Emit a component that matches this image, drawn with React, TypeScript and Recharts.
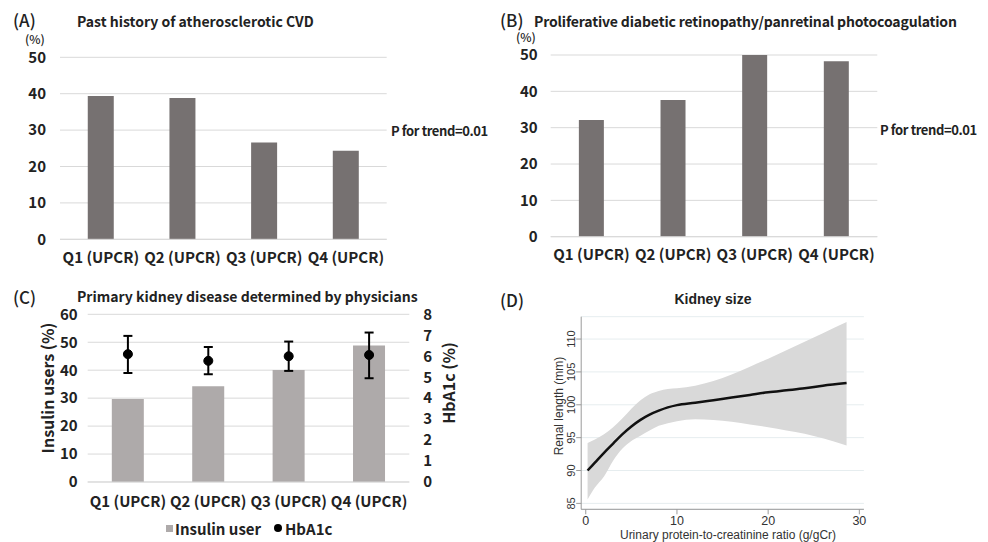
import React from "react";
import {
  BarChart,
  Bar,
  ComposedChart,
  Line,
  Area,
  ErrorBar,
  XAxis,
  YAxis,
  CartesianGrid,
} from "recharts";

// categories (UPCR quartiles)
const quartiles = ["Q1 (UPCR)", "Q2 (UPCR)", "Q3 (UPCR)", "Q4 (UPCR)"];

// (A) past history of atherosclerotic CVD, %
const cvdPct = [39.4, 38.8, 26.6, 24.3];
// (B) proliferative diabetic retinopathy / PRP, %
const pdrPct = [32.1, 37.6, 50.0, 48.3];
// (C) insulin users, % and HbA1c, %
const insulinPct = [29.7, 34.3, 40.1, 48.8];
const hba1c = [6.1, 5.78, 6.0, 6.06];
const hba1cErrLow = [0.9, 0.64, 0.7, 1.11];
const hba1cErrHigh = [0.87, 0.66, 0.7, 1.07];

// (D) kidney size vs UPCR
const upcr = [0.2, 1, 2, 3, 4, 5, 6, 7, 8, 9, 10, 12, 14, 16, 18, 20, 22, 24, 26, 28.6];
const renalFit = [90.0, 91.2, 92.7, 94.1, 95.5, 96.7, 97.7, 98.5, 99.1, 99.6, 99.95, 100.3, 100.7, 101.1, 101.5, 101.9, 102.2, 102.5, 102.9, 103.3];
const renalLower = [85.6, 87.4, 89.1, 91.5, 93.3, 94.5, 95.3, 96.1, 96.8, 97.2, 97.5, 97.8, 97.7, 97.4, 97.0, 96.6, 96.1, 95.6, 94.9, 93.8];
const renalUpper = [94.2, 94.7, 95.5, 96.6, 97.9, 99.4, 100.7, 101.6, 102.1, 102.4, 102.5, 102.9, 103.6, 104.6, 105.8, 107.0, 108.3, 109.6, 110.9, 112.6];

// tick labels
const pctTicks = [0, 10, 20, 30, 40, 50];
const insulinTicks = [0, 10, 20, 30, 40, 50, 60];
const hbTicks = [0, 1, 2, 3, 4, 5, 6, 7, 8];
const renalTicks = [85, 90, 95, 100, 105, 110];
const upcrTicks = [0, 10, 20, 30];

const JP = '"Noto Sans CJK JP", "Noto Sans", sans-serif';
const ARIAL = '"Liberation Sans", Arial, sans-serif';
const INK = "#222";

const dataA = quartiles.map((q, i) => ({ q, v: cvdPct[i] }));
const dataB = quartiles.map((q, i) => ({ q, v: pdrPct[i] }));
const dataC = quartiles.map((q, i) => ({
  q,
  ins: insulinPct[i],
  hb: hba1c[i],
  hbErr: [hba1cErrLow[i], hba1cErrHigh[i]],
}));
const dataD = upcr.map((x, i) => ({
  x,
  fit: renalFit[i],
  band: [renalLower[i], renalUpper[i]],
}));

const tickJP = { fill: INK, fontFamily: JP, fontSize: 15, fontWeight: 700 };

type TxtProps = {
  x: number;
  y: number;
  center?: boolean;
  rotate?: boolean;
  style?: React.CSSProperties;
  children: React.ReactNode;
};

// plain text on the page, x = left edge (or centre), y = vertical centre
const Txt = ({ x, y, center, rotate, style, children }: TxtProps) => (
  <div
    style={{
      position: "absolute",
      left: x,
      top: y,
      transform: `translate(${center || rotate ? "-50%" : "0"}, -50%)${rotate ? " rotate(-90deg)" : ""}`,
      whiteSpace: "nowrap",
      lineHeight: 1,
      color: INK,
      fontFamily: JP,
      fontWeight: 700,
      fontSize: 14,
      ...style,
    }}
  >
    {children}
  </div>
);

const RotTick = (props: any) => {
  const { x, y, payload } = props;
  return (
    <text
      x={x}
      y={y}
      transform={`rotate(-90, ${x}, ${y})`}
      textAnchor="middle"
      fill="#333"
      fontFamily={ARIAL}
      fontSize={11}
    >
      {payload.value}
    </text>
  );
};

export default function App() {
  return (
    <div
      style={{
        position: "absolute",
        left: 0,
        top: 0,
        width: 988,
        height: 542,
        background: "#fff",
        overflow: "hidden",
      }}
    >
      {/* (A) */}
      <div style={{ position: "absolute", left: 0, top: 0 }}>
        <BarChart
          width={494}
          height={280}
          data={dataA}
          margin={{ top: 57.3, right: 107.3, bottom: 10.7, left: 0 }}
          barCategoryGap="34%"
        >
          <CartesianGrid vertical={false} stroke="#d9d9d9" />
          <XAxis
            dataKey="q"
            interval={0}
            axisLine={{ stroke: "#d9d9d9" }}
            tickLine={false}
            tickMargin={7}
            tick={tickJP}
            height={30}
          />
          <YAxis
            domain={[0, 50]}
            ticks={pctTicks}
            interval={0}
            axisLine={false}
            tickLine={false}
            tickMargin={8}
            width={60}
            tick={tickJP}
          />
          <Bar dataKey="v" fill="#767171" isAnimationActive={false} />
        </BarChart>
      </div>
      <Txt x={13} y={18.5} style={{ fontSize: 17, fontWeight: 500 }}>(A)</Txt>
      <Txt x={77} y={21}>Past history of atherosclerotic CVD</Txt>
      <Txt x={25} y={38.5} style={{ fontSize: 12, fontWeight: 500 }}>(%)</Txt>
      <Txt x={391} y={130} style={{ fontSize: 13, letterSpacing: -0.4 }}>P for trend=0.01</Txt>

      {/* (B) */}
      <div style={{ position: "absolute", left: 494, top: 0 }}>
        <BarChart
          width={494}
          height={280}
          data={dataB}
          margin={{ top: 55, right: 110.7, bottom: 13.3, left: 0 }}
          barCategoryGap="34.5%"
        >
          <CartesianGrid vertical={false} stroke="#d9d9d9" />
          <XAxis
            dataKey="q"
            interval={0}
            axisLine={{ stroke: "#d9d9d9" }}
            tickLine={false}
            tickMargin={7}
            tick={tickJP}
            height={30}
          />
          <YAxis
            domain={[0, 50]}
            ticks={pctTicks}
            interval={0}
            axisLine={false}
            tickLine={false}
            tickMargin={7}
            width={56.7}
            tick={tickJP}
          />
          <Bar dataKey="v" fill="#767171" isAnimationActive={false} />
        </BarChart>
      </div>
      <Txt x={500} y={18.5} style={{ fontSize: 17, fontWeight: 500 }}>(B)</Txt>
      <Txt x={534} y={21} style={{ letterSpacing: -0.15 }}>
        Proliferative diabetic retinopathy/panretinal photocoagulation
      </Txt>
      <Txt x={516} y={37} style={{ fontSize: 12, fontWeight: 500 }}>(%)</Txt>
      <Txt x={880} y={129} style={{ fontSize: 13, letterSpacing: -0.4 }}>P for trend=0.01</Txt>

      {/* (C) */}
      <div style={{ position: "absolute", left: 0, top: 280 }}>
        <ComposedChart
          width={494}
          height={262}
          data={dataC}
          margin={{ top: 34.3, right: 0, bottom: 30, left: 0 }}
          barCategoryGap="30%"
        >
          <CartesianGrid yAxisId="left" vertical={false} stroke="#d9d9d9" />
          <XAxis
            dataKey="q"
            interval={0}
            axisLine={{ stroke: "#d9d9d9" }}
            tickLine={false}
            tickMargin={8}
            tick={tickJP}
            height={30}
          />
          <YAxis
            yAxisId="left"
            domain={[0, 60]}
            ticks={insulinTicks}
            interval={0}
            axisLine={false}
            tickLine={false}
            tickMargin={4}
            width={87.7}
            tick={tickJP}
          />
          <YAxis
            yAxisId="right"
            orientation="right"
            domain={[0, 8]}
            ticks={hbTicks}
            interval={0}
            axisLine={false}
            tickLine={false}
            tickMargin={8}
            width={84.7}
            tick={tickJP}
          />
          <Bar yAxisId="left" dataKey="ins" fill="#aeaaaa" isAnimationActive={false} />
          <Line
            yAxisId="right"
            dataKey="hb"
            stroke="none"
            dot={{ r: 4.5, fill: "#000", stroke: "#000", strokeWidth: 1 }}
            activeDot={false}
            isAnimationActive={false}
          >
            <ErrorBar dataKey="hbErr" width={4.5} strokeWidth={2} stroke="#000" />
          </Line>
        </ComposedChart>
      </div>
      <Txt x={13} y={296} style={{ fontSize: 17, fontWeight: 500 }}>(C)</Txt>
      <Txt x={77} y={296}>Primary kidney disease determined by physicians</Txt>
      <Txt x={47} y={388} rotate style={{ fontSize: 16 }}>Insulin users (%)</Txt>
      <Txt x={448} y={383} rotate style={{ fontSize: 16 }}>HbA1c (%)</Txt>
      <div
        style={{
          position: "absolute",
          left: 165.5,
          top: 524.5,
          width: 7.5,
          height: 7.5,
          background: "#aeaaaa",
        }}
      />
      <Txt x={175} y={528} style={{ fontSize: 15 }}>Insulin user</Txt>
      <div
        style={{
          position: "absolute",
          left: 274,
          top: 524,
          width: 8,
          height: 8,
          borderRadius: "50%",
          background: "#000",
        }}
      />
      <Txt x={285} y={528} style={{ fontSize: 15 }}>HbA1c</Txt>

      {/* (D) */}
      <div style={{ position: "absolute", left: 494, top: 280 }}>
        <ComposedChart
          width={494}
          height={262}
          data={dataD}
          margin={{ top: 36.7, right: 124.1, bottom: 2.7, left: 0 }}
        >
          <CartesianGrid vertical={false} stroke="#e6edef" />
          <XAxis
            dataKey="x"
            type="number"
            domain={[-0.5, 30.5]}
            ticks={upcrTicks}
            interval={0}
            allowDataOverflow
            axisLine={{ stroke: "#9a9a9a" }}
            tickLine={{ stroke: "#9a9a9a" }}
            tickSize={5}
            tickMargin={2}
            tick={{ fill: "#333", fontFamily: ARIAL, fontSize: 12.5 }}
            height={30}
          />
          <YAxis
            type="number"
            domain={[84.1, 113.4]}
            ticks={renalTicks}
            interval={0}
            allowDataOverflow
            axisLine={{ stroke: "#9a9a9a" }}
            tickLine={{ stroke: "#9a9a9a" }}
            tickSize={5}
            tickMargin={1}
            width={87.2}
            tick={<RotTick />}
          />
          <Area
            type="monotone"
            dataKey="band"
            fill="#d9d9d9"
            fillOpacity={1}
            stroke="none"
            activeDot={false}
            isAnimationActive={false}
          />
          <Line
            type="monotone"
            dataKey="fit"
            stroke="#111"
            strokeWidth={2.5}
            dot={false}
            activeDot={false}
            isAnimationActive={false}
          />
        </ComposedChart>
      </div>
      <Txt x={500} y={299} style={{ fontSize: 17, fontWeight: 500 }}>(D)</Txt>
      <Txt x={713} y={299} center style={{ fontFamily: ARIAL, fontSize: 14 }}>Kidney size</Txt>
      <Txt x={559} y={406} rotate style={{ fontFamily: ARIAL, fontWeight: 400, fontSize: 12, color: "#333" }}>
        Renal length (mm)
      </Txt>
      <Txt x={728} y={534.5} center style={{ fontFamily: ARIAL, fontWeight: 400, fontSize: 12, color: "#333" }}>
        Urinary protein-to-creatinine ratio (g/gCr)
      </Txt>
    </div>
  );
}
